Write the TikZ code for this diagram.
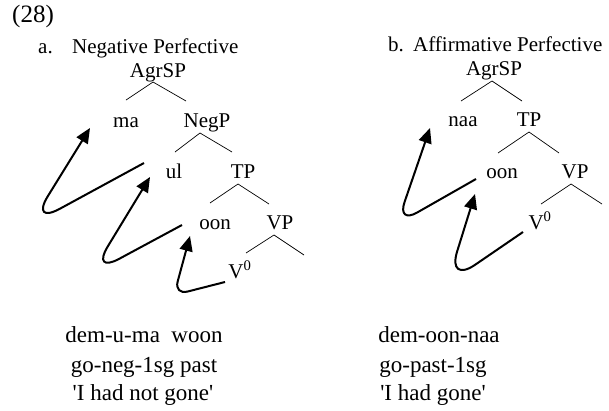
\documentclass[tikz,border=0pt]{standalone}
\usepackage{fontspec}
\setmainfont{Liberation Serif}[Ligatures=TeXOff]
\usetikzlibrary{arrows.meta}
\begin{document}
\begin{tikzpicture}[x=1pt,y=-1pt,
  lbl/.style={inner sep=0pt, anchor=base, font=\fontsize{21}{25}\selectfont},
  ttl/.style={inner sep=0pt, anchor=base west, font=\fontsize{21}{25}\selectfont},
  gl/.style={inner sep=0pt, anchor=base, font=\fontsize{23}{28}\selectfont},
  branch/.style={line width=0.7pt},
  mv/.style={line width=2pt, -{Triangle[length=15pt,width=13pt]}}]
\useasboundingbox (0,0) rectangle (609,410);

% example number and titles
\node[inner sep=0pt, anchor=base west, font=\fontsize{25}{30}\selectfont] (num) at (12,22) {(28)};
\node[ttl] (alab) at (38,53) {a.};
\node[ttl] (atitle) at (72,53) {Negative Perfective};
\node[ttl] (blab) at (388,51) {b.};
\node[ttl] (btitle) at (413,51) {Affirmative Perfective};

% ---------- tree a ----------
\node[lbl] (a-agr) at (158,77) {AgrSP};
\node[lbl] (a-ma) at (126,127) {ma};
\node[lbl] (a-neg) at (207,127) {NegP};
\node[lbl] (a-ul) at (174,178) {ul};
\node[lbl] (a-tp) at (243,178) {TP};
\node[lbl] (a-oon) at (215,229) {oon};
\node[lbl] (a-vp) at (280,229) {VP};
\node[lbl] (a-v) at (240,278) {V\textsuperscript{0}};

\coordinate (a-agr-b) at (153,82);
\coordinate (a-agr-l) at (126,100);
\coordinate (a-agr-r) at (186,101);
\coordinate (a-neg-b) at (200,133);
\coordinate (a-neg-l) at (175,152);
\coordinate (a-neg-r) at (232,152);
\coordinate (a-tp-b) at (238,184);
\coordinate (a-tp-l) at (210,203);
\coordinate (a-tp-r) at (269,204);
\coordinate (a-vp-b) at (274,235);
\coordinate (a-vp-l) at (246,253);
\coordinate (a-vp-r) at (304,255);

\draw[branch] (a-agr-l) -- (a-agr-b) -- (a-agr-r);
\draw[branch] (a-neg-l) -- (a-neg-b) -- (a-neg-r);
\draw[branch] (a-tp-l) -- (a-tp-b) -- (a-tp-r);
\draw[branch] (a-vp-l) -- (a-vp-b) -- (a-vp-r);

% movement arrows: start, turning corner, tip
\coordinate (a-m1s) at (144,163);
\coordinate (a-m1c) at (30,225);
\coordinate (a-m1t) at (90,128);
\coordinate (a-m2s) at (182,225);
\coordinate (a-m2c) at (91,274);
\coordinate (a-m2t) at (150,177);
\coordinate (a-m3s) at (225,282);
\coordinate (a-m3c) at (174,295);
\coordinate (a-m3t) at (190,236);

\draw[mv, rounded corners=34pt] (a-m1s) -- (a-m1c) -- (a-m1t);
\draw[mv, rounded corners=32pt] (a-m2s) -- (a-m2c) -- (a-m2t);
\draw[mv, rounded corners=14pt] (a-m3s) -- (a-m3c) -- (a-m3t);

% ---------- tree b ----------
\node[lbl] (b-agr) at (494,75) {AgrSP};
\node[lbl] (b-naa) at (463,126) {naa};
\node[lbl] (b-tp) at (529,126) {TP};
\node[lbl] (b-oon) at (502,178) {oon};
\node[lbl] (b-vp) at (575,178) {VP};
\node[lbl] (b-v) at (540,229) {V\textsuperscript{0}};

\coordinate (b-agr-b) at (492,81);
\coordinate (b-agr-l) at (461,101);
\coordinate (b-agr-r) at (522,101);
\coordinate (b-tp-b) at (529,132);
\coordinate (b-tp-l) at (498,153);
\coordinate (b-tp-r) at (559,153);
\coordinate (b-vp-b) at (571,184);
\coordinate (b-vp-l) at (541,204);
\coordinate (b-vp-r) at (602,204);

\draw[branch] (b-agr-l) -- (b-agr-b) -- (b-agr-r);
\draw[branch] (b-tp-l) -- (b-tp-b) -- (b-tp-r);
\draw[branch] (b-vp-l) -- (b-vp-b) -- (b-vp-r);

\coordinate (b-m1s) at (476,179);
\coordinate (b-m1c) at (397,224);
\coordinate (b-m1t) at (430,128);
\coordinate (b-m2s) at (523,232);
\coordinate (b-m2c) at (447,284);
\coordinate (b-m2t) at (475,194);

\draw[mv, rounded corners=23pt] (b-m1s) -- (b-m1c) -- (b-m1t);
\draw[mv, rounded corners=34pt] (b-m2s) -- (b-m2c) -- (b-m2t);

% ---------- glosses ----------
\node[gl] (a-g1) at (144,342) {dem-u-ma\ \ woon};
\node[gl] (a-g2) at (144,372) {go-neg-1sg past};
\node[gl] (a-g3) at (143,400) {'I had not gone'};
\node[gl] (b-g1) at (439,342) {dem-oon-naa};
\node[gl] (b-g2) at (433,372) {go-past-1sg};
\node[gl] (b-g3) at (433,400) {'I had gone'};
\end{tikzpicture}
\end{document}
